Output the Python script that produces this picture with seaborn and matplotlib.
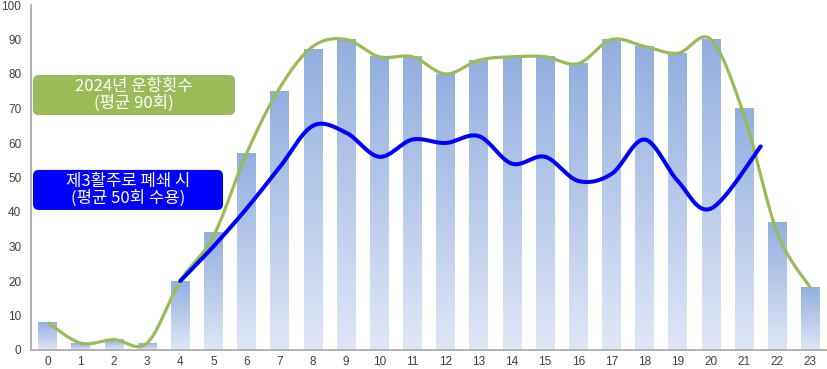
import numpy as np
import pandas as pd
import matplotlib
matplotlib.use("Agg")
import matplotlib.pyplot as plt
import seaborn as sns
from matplotlib.patches import FancyBboxPatch
from matplotlib.colors import LinearSegmentedColormap

# ---- data ----
hours = list(range(24))
flights_2024 = [8, 2, 3, 2, 20, 34, 57, 75, 87, 90, 85, 85, 80, 84, 85, 85, 83, 90, 88, 86, 90, 70, 37, 18]
green_line = [8, 2, 3, 2, 20, 33, 57, 76, 88, 90, 85, 85, 80, 84, 85, 85, 83, 90, 88, 86, 90, 68, 34, 18]
blue_x = [4, 5, 6, 7, 8, 9, 10, 11, 12, 13, 14, 15, 16, 17, 18, 19, 20, 21.5]
blue_line = [20, 30, 41, 53, 65, 63, 56, 61, 60, 62, 54, 56, 49, 51, 61, 49, 41, 59]
label_green = "2024년 운항횟수\n(평균 90회)"
label_blue = "제3활주로 폐쇄 시\n(평균 50회 수용)"

sns.set_theme(style="white")
plt.rcParams['font.family'] = ['Noto Sans CJK KR', 'DejaVu Sans']

fig = plt.figure(figsize=(8.27, 3.69), dpi=100)
ax = fig.add_axes([31/827, 19/369, 1 - 31/827, (369 - 19 - 5)/369])

df = pd.DataFrame({"hour": hours, "flights": flights_2024})
sns.barplot(data=df, x="hour", y="flights", ax=ax, width=0.56, color="#8FAADC",
            errorbar=None, saturation=1)

cmap = LinearSegmentedColormap.from_list("g", ["#DFE7F6", "#93AEDF"])
grad = np.linspace(0, 1, 256).reshape(-1, 1)
for p in list(ax.patches):
    x0, y0 = p.get_x(), p.get_y()
    w, h = p.get_width(), p.get_height()
    p.set_visible(False)
    ax.imshow(grad, extent=[x0, x0 + w, y0, y0 + h], origin="lower",
              aspect="auto", cmap=cmap, zorder=1)


def catmull(xs, ys, n=30, tension=0.5):
    P = np.column_stack([xs, ys]).astype(float)
    P = np.vstack([P[0], P, P[-1]])
    out = []
    t = np.linspace(0, 1, n, endpoint=False)[:, None]
    for i in range(1, len(P) - 2):
        p0, p1, p2, p3 = P[i - 1], P[i], P[i + 1], P[i + 2]
        m1 = tension * (p2 - p0)
        m2 = tension * (p3 - p1)
        h00 = 2 * t**3 - 3 * t**2 + 1
        h10 = t**3 - 2 * t**2 + t
        h01 = -2 * t**3 + 3 * t**2
        h11 = t**3 - t**2
        out.append(h00 * p1 + h10 * m1 + h01 * p2 + h11 * m2)
    out.append(P[-2][None, :])
    arr = np.vstack(out)
    return arr[:, 0], arr[:, 1]


gx, gy = catmull(hours, green_line)
ax.plot(gx, gy, color="#9BBB59", lw=2.3, zorder=3, solid_capstyle="butt")
bx, by = catmull(blue_x, blue_line)
ax.plot(bx, by, color="#0000FF", lw=2.9, zorder=4, solid_capstyle="round")

ax.set_xlim(-0.5, 23.5)
ax.set_ylim(0, 100)
ax.set_yticks(range(0, 101, 10))
ax.set_xticks(range(24))
ax.set_xticklabels([str(h) for h in hours])
ax.set_xlabel("")
ax.set_ylabel("")
ax.tick_params(axis="both", length=0, labelsize=8.5, colors="#404040")
ax.tick_params(axis="y", pad=7)
ax.tick_params(axis="x", pad=4)
for lab in ax.get_xticklabels() + ax.get_yticklabels():
    lab.set_fontfamily(['Liberation Sans', 'DejaVu Sans'])
for s in ["top", "right"]:
    ax.spines[s].set_visible(False)
for s in ["left", "bottom"]:
    ax.spines[s].set_color("#A6A6A6")
    ax.spines[s].set_linewidth(1.2)

# text boxes (data coords; aspect corrected rounding)
asp = (100 / 345) / (24 / 796)
def box(x0, y0, x1, y1, fc, text):
    b = FancyBboxPatch((x0, y0), x1 - x0, y1 - y0,
                       boxstyle="round,pad=0,rounding_size=0.17",
                       mutation_aspect=asp, fc=fc, ec="none", zorder=6)
    ax.add_patch(b)
    ax.text((x0 + x1) / 2, (y0 + y1) / 2, text, ha="center", va="center",
            color="white", fontsize=12, linespacing=1.0, zorder=7)

box(-0.44, 68.1, 5.65, 79.7, "#9BBB59", label_green)
box(-0.44, 40.6, 5.29, 52.2, "#0000FF", label_blue)

fig.savefig("out.png", dpi=100)
